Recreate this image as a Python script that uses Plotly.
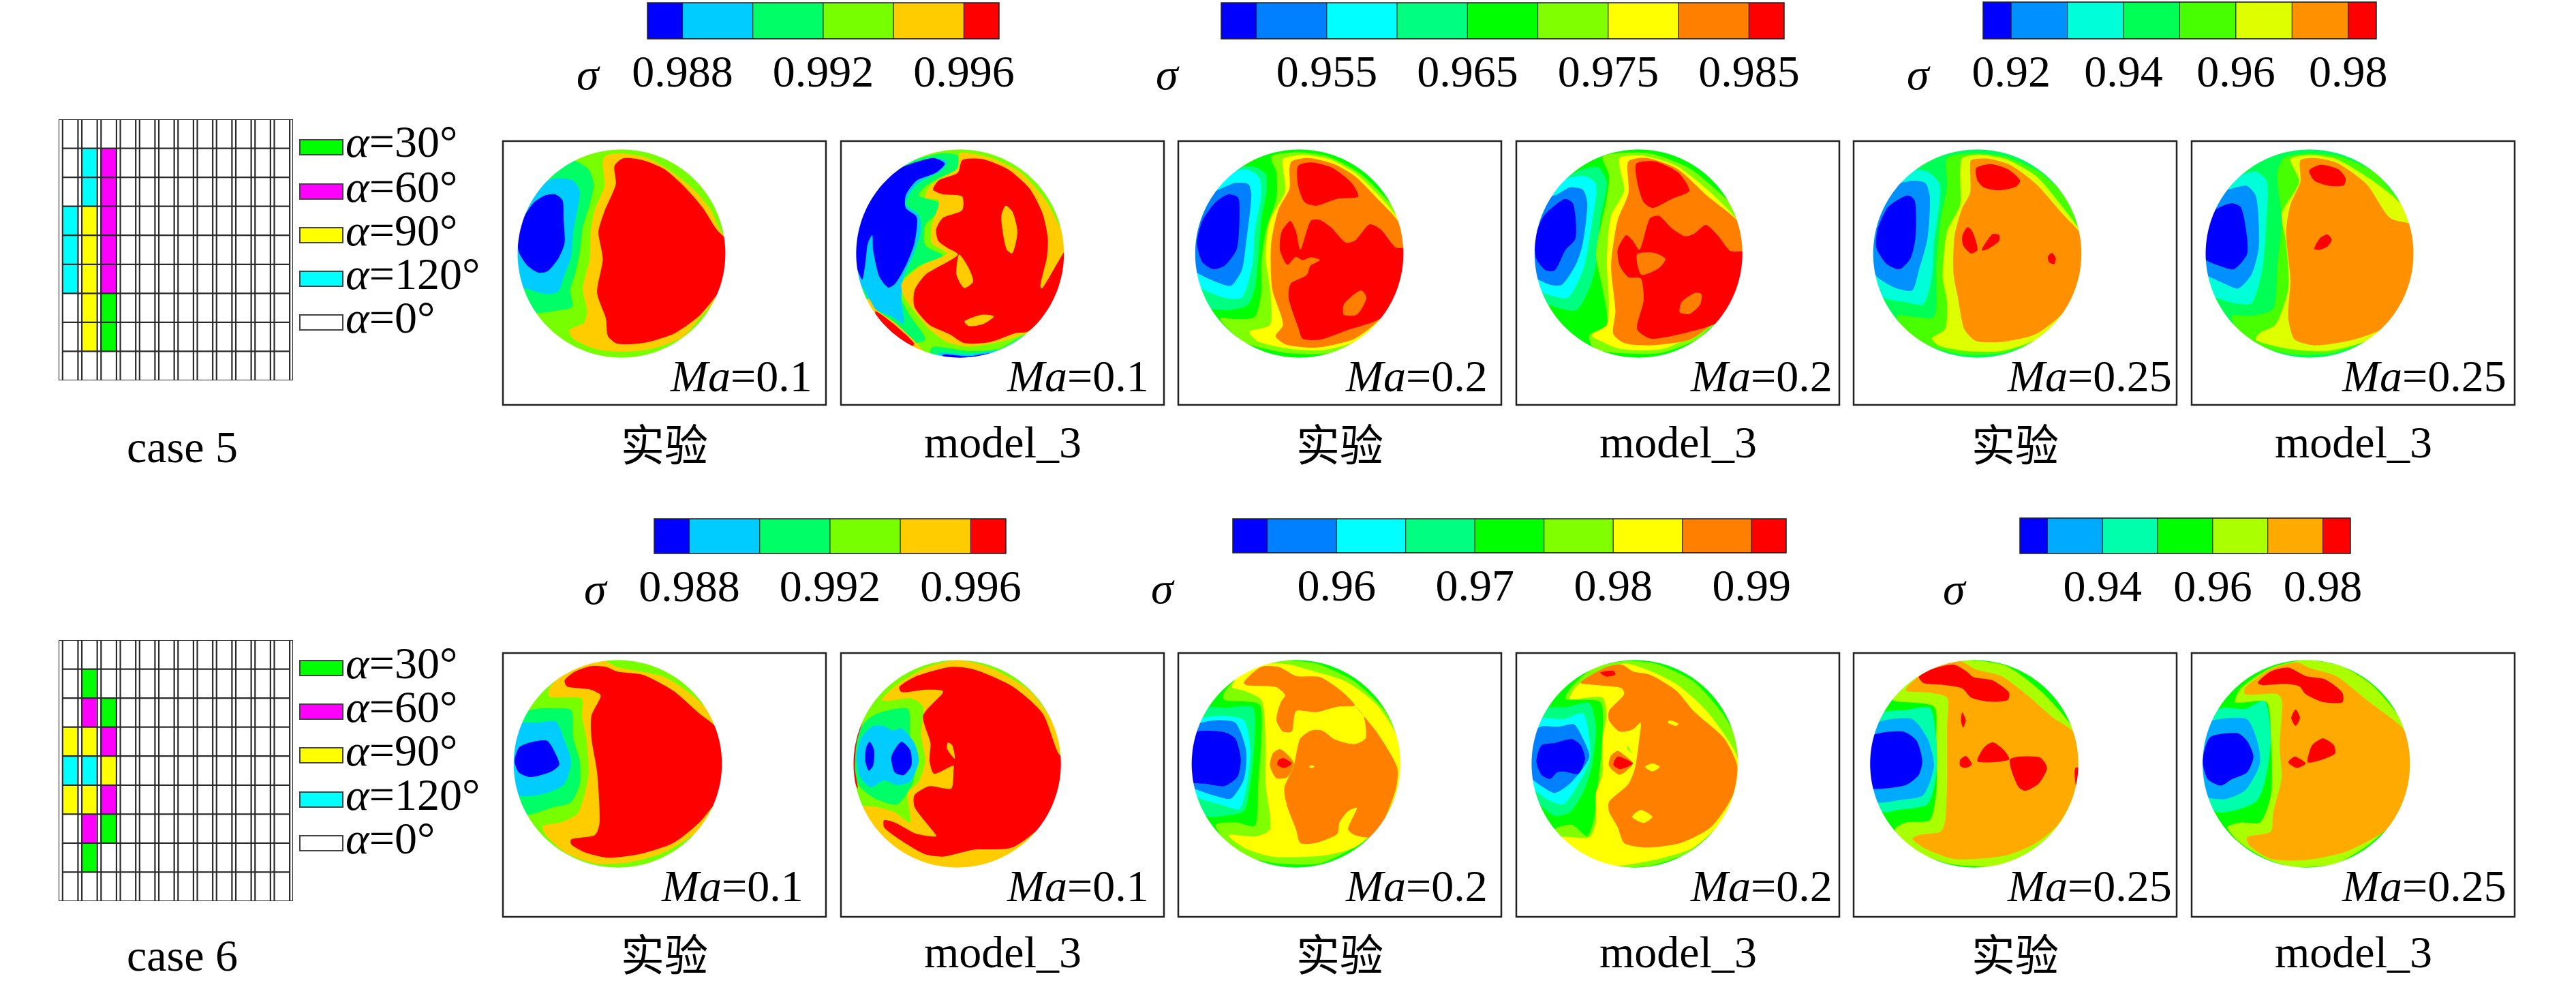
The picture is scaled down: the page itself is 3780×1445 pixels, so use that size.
#!/usr/bin/env python3
"""Contour maps of sigma for case 5 and case 6, experiment against model_3."""

import math

import plotly.graph_objects as go

W, H = 3780, 1445
SERIF = "Liberation Serif"
CJK = "Noto Sans CJK SC"
FONT_PX = 66

# --- colour levels -----------------------------------------------------------
COLORS_6 = ["#0000ff", "#00ccff", "#00ff66", "#77ff00", "#ffcc00", "#ff0000"]
COLORS_9 = ["#0000ff", "#0080ff", "#00ffff", "#00ff80", "#00ff00", "#80ff00", "#ffff00", "#ff8000", "#ff0000"]
COLORS_8 = ["#0000ff", "#0090ff", "#00ffd8", "#00ff55", "#48ff00", "#ddff00", "#ff9000", "#ff0000"]
COLORS_7 = ["#0000ff", "#00aaff", "#00ffaa", "#00ff00", "#aaff00", "#ffaa00", "#ff0000"]

# --- colour bars: segment edges in sigma, tick values and labels -------------
EDGES_A = [0.987, 0.988, 0.990, 0.992, 0.994, 0.996, 0.997]
TICKS_A = [0.988, 0.992, 0.996]
TEXT_A = ["0.988", "0.992", "0.996"]
EDGES_B = [0.9475, 0.950, 0.955, 0.960, 0.965, 0.970, 0.975, 0.980, 0.985, 0.9875]
TICKS_B = [0.955, 0.965, 0.975, 0.985]
TEXT_B = ["0.955", "0.965", "0.975", "0.985"]
EDGES_C = [0.915, 0.92, 0.93, 0.94, 0.95, 0.96, 0.97, 0.98, 0.985]
TICKS_C = [0.92, 0.94, 0.96, 0.98]
TEXT_C = ["0.92", "0.94", "0.96", "0.98"]
EDGES_D = [0.987, 0.988, 0.990, 0.992, 0.994, 0.996, 0.997]
TICKS_D = TICKS_A
TEXT_D = TEXT_A
EDGES_E = [0.9525, 0.955, 0.960, 0.965, 0.970, 0.975, 0.980, 0.985, 0.990, 0.9925]
TICKS_E = [0.96, 0.97, 0.98, 0.99]
TEXT_E = ["0.96", "0.97", "0.98", "0.99"]
EDGES_F = [0.925, 0.93, 0.94, 0.95, 0.96, 0.97, 0.98, 0.985]
TICKS_F = [0.94, 0.96, 0.98]
TEXT_F = ["0.94", "0.96", "0.98"]

# --- wall patterns: angle of each cell, rows top to bottom -------------------
CASE5_ANGLES = [
    [0, 0, 0, 0, 0, 0, 0, 0, 0, 0, 0, 0],
    [0, 120, 60, 0, 0, 0, 0, 0, 0, 0, 0, 0],
    [0, 120, 60, 0, 0, 0, 0, 0, 0, 0, 0, 0],
    [120, 90, 60, 0, 0, 0, 0, 0, 0, 0, 0, 0],
    [120, 90, 60, 0, 0, 0, 0, 0, 0, 0, 0, 0],
    [120, 90, 60, 0, 0, 0, 0, 0, 0, 0, 0, 0],
    [0, 90, 30, 0, 0, 0, 0, 0, 0, 0, 0, 0],
    [0, 90, 30, 0, 0, 0, 0, 0, 0, 0, 0, 0],
    [0, 0, 0, 0, 0, 0, 0, 0, 0, 0, 0, 0],
]
CASE6_ANGLES = [
    [0, 0, 0, 0, 0, 0, 0, 0, 0, 0, 0, 0],
    [0, 30, 0, 0, 0, 0, 0, 0, 0, 0, 0, 0],
    [0, 60, 30, 0, 0, 0, 0, 0, 0, 0, 0, 0],
    [90, 90, 60, 0, 0, 0, 0, 0, 0, 0, 0, 0],
    [120, 120, 90, 0, 0, 0, 0, 0, 0, 0, 0, 0],
    [90, 90, 60, 0, 0, 0, 0, 0, 0, 0, 0, 0],
    [0, 60, 30, 0, 0, 0, 0, 0, 0, 0, 0, 0],
    [0, 30, 0, 0, 0, 0, 0, 0, 0, 0, 0, 0],
    [0, 0, 0, 0, 0, 0, 0, 0, 0, 0, 0, 0],
]
LEGEND_ANGLES = [30, 60, 90, 120, 0]
ANGLE_COLORS = {0: "#ffffff", 30: "#00ff00", 60: "#ff00ff", 90: "#ffff00", 120: "#00ffff"}

# --- contour regions ---------------------------------------------------------
# Each map: base level, then (level, outline) painted in order.
C5_M10_EXP = (3, [
    (2, [(190,135),(225,175),(237,240),(228,330),(212,430),(205,540),(195,630),(183,710),(188,780),(150,798),(110,808),(40,800),(40,120)]),
    (1, [(150,215),(190,225),(205,270),(200,350),(190,450),(185,560),(170,640),(155,715),(130,725),(78,700),(40,690),(40,300),(95,270),(120,235)]),
    (0, [(148,285),(165,310),(168,400),(170,500),(155,570),(130,625),(110,630),(85,600),(65,540),(62,480),(75,390),(100,320),(125,290)]),
    (4, [(265,115),(300,105),(360,125),(420,190),(470,270),(505,350),(530,450),(560,520),(520,740),(490,810),(440,915),(370,965),(300,978),(240,965),(190,920),(180,885),(215,850),(222,800),(212,700),(228,570),(230,450),(240,350),(262,250),(258,140)]),
    (5, [(305,127),(350,135),(400,175),(450,260),(490,350),(520,440),(560,520),(560,640),(520,730),(480,820),(420,900),(350,940),(290,942),(270,910),(265,830),(245,720),(258,570),(248,450),(262,360),(288,240),(285,160)]),
])
C5_M10_SIM = (3, [
    (2, [(1040,105),(1075,115),(1072,175),(1030,215),(1000,250),(985,290),(1030,320),(1040,345),(1000,420),(1000,510),(1040,555),(985,600),(945,670),(945,745),(965,820),(1000,925),(960,940),(880,800),(820,760),(820,300),(950,150)]),
    (1, [(960,175),(1030,128),(1050,140),(1040,175),(985,235),(965,280),(955,330),(985,375),(990,440),(975,540),(950,650),(945,750),(950,855),(925,825),(885,790),(858,700),(820,600),(820,300)]),
    (0, [(930,180),(1020,125),(1045,150),(1025,190),(980,225),(955,290),(955,345),(980,385),(975,500),(955,600),(930,680),(915,695),(895,650),(880,530),(878,465),(868,500),(862,590),(855,660),(835,560),(835,400),(870,280)]),
    (4, [(870,745),(885,790),(930,850),(985,950),(995,975),(960,960),(880,840),(860,760)]),
    (5, [(885,800),(930,860),(975,945),(965,955),(900,870)]),
    (2, [(1015,960),(1100,975),(1170,965),(1240,900),(1260,1020),(1015,1020)]),
    (1, [(1030,985),(1100,990),(1180,975),(1170,1020),(1030,1020)]),
    (0, [(1040,992),(1100,998),(1170,982),(1150,1020),(1050,1020)]),
    (4, [(1080,105),(1150,125),(1220,190),(1280,320),(1310,430),(1335,520),(1320,640),(1280,780),(1235,890),(1180,930),(1100,955),(1050,935),(1010,880),(975,800),(950,730),(945,680),(970,630),(1000,590),(1050,545),(1015,500),(1015,420),(1030,340),(1030,310),(1000,300),(1010,250),(1040,210),(1075,170)]),
    (5, [(1085,135),(1130,130),(1190,175),(1240,260),(1270,370),(1282,480),(1280,560),(1265,690),(1268,700),(1335,500),(1335,650),(1290,790),(1235,890),(1210,895),(1150,935),(1090,940),(1055,900),(1010,860),(975,780),(975,710),(1000,640),(1075,550),(1050,520),(1030,490),(1025,440),(1040,390),(1085,355),(1085,295),(1040,285),(1018,265),(1030,225),(1075,190)]),
    (4, [(1185,335),(1200,360),(1212,450),(1200,545),(1188,530),(1175,380)]),
    (4, [(1078,550),(1100,610),(1110,670),(1090,698),(1072,640)]),
    (4, [(1090,845),(1130,815),(1158,822),(1135,855),(1100,865)]),
])
C5_M20_EXP = (4, [
    (3, [(150,165),(190,165),(215,195),(218,260),(205,400),(200,520),(190,700),(175,770),(130,795),(80,790),(30,800),(30,300),(100,200)]),
    (2, [(125,200),(170,175),(200,210),(205,280),(190,450),(185,590),(160,740),(120,740),(60,690),(30,600),(30,300),(90,270)]),
    (1, [(145,235),(175,240),(182,280),(170,500),(160,620),(135,688),(100,670),(50,620),(30,550),(30,300),(100,270)]),
    (0, [(130,285),(152,300),(155,380),(148,530),(120,600),(95,615),(70,585),(57,500),(70,400),(100,320)]),
    (5, [(228,120),(290,100),(360,120),(430,190),(480,280),(540,420),(540,620),(500,800),(440,930),(360,985),(270,985),(170,940),(125,870),(110,830),(150,835),(190,825),(205,720),(205,600),(215,450),(240,300),(240,190)]),
    (6, [(255,130),(300,112),(360,130),(420,190),(470,280),(525,410),(540,600),(490,820),(440,920),(350,970),(270,965),(195,930),(178,890),(225,860),(225,700),(215,560),(225,400),(260,270),(255,170)]),
    (7, [(275,140),(310,125),(370,150),(420,205),(470,300),(525,420),(540,600),(485,820),(420,920),(330,960),(260,945),(238,910),(255,860),(230,700),(228,500),(245,350),(270,260),(270,170)]),
    (8, [(290,160),(320,145),(370,170),(415,240),(428,295),(380,305),(330,335),(305,320),(290,250)]),
    (8, [(252,450),(272,403),(285,450),(295,530),(320,400),(340,398),(365,430),(400,498),(420,490),(455,417),(480,440),(515,520),(540,525),(540,650),(485,825),(400,885),(340,925),(300,920),(290,870),(268,740),(272,680),(310,640),(318,600),(340,575),(320,562),(300,575),(285,560),(265,595),(248,530)]),
    (7, [(435,708),(447,740),(425,815),(395,815),(395,770)]),
])
C5_M20_SIM = (4, [
    (3, [(945,175),(980,165),(1000,230),(985,400),(975,600),(960,700),(930,795),(880,780),(800,700),(800,300),(880,230)]),
    (2, [(910,215),(950,205),(975,240),(965,420),(945,620),(910,740),(870,730),(800,660),(800,300),(880,260)]),
    (1, [(915,255),(945,265),(955,320),(945,500),(930,590),(895,685),(865,680),(800,600),(800,300),(880,290)]),
    (0, [(905,305),(922,325),(928,480),(905,530),(880,620),(860,620),(838,570),(835,480),(855,380)]),
    (5, [(990,120),(1020,105),(1100,105),(1190,170),(1260,280),(1330,420),(1330,600),(1280,780),(1210,920),(1120,985),(990,975),(965,950),(960,905),(1000,860),(990,700),(975,550),(1000,300),(1005,200)]),
    (6, [(1030,125),(1080,115),(1160,160),(1240,280),(1300,400),(1330,560),(1290,760),(1220,880),(1130,965),(1030,965),(985,930),(965,905),(1000,860),(1005,760),(1000,580),(1010,380),(1040,270),(1030,170)]),
    (7, [(1050,140),(1090,125),(1160,170),(1230,290),(1300,400),(1330,500),(1320,700),(1260,830),(1190,925),(1100,950),(1040,940),(1015,900),(1020,800),(1010,600),(1025,400),(1050,280)]),
    (8, [(1068,150),(1110,140),(1165,190),(1190,270),(1150,305),(1105,345),(1085,320),(1070,230)]),
    (8, [(1025,530),(1045,465),(1060,490),(1075,530),(1100,390),(1120,380),(1150,435),(1180,470),(1200,460),(1228,420),(1255,465),(1285,535),(1330,540),(1330,640),(1290,770),(1255,850),(1170,900),(1100,920),(1070,880),(1085,750),(1078,655),(1050,650),(1030,600)]),
    (7, [(1070,548),(1110,543),(1135,570),(1120,610),(1080,640),(1070,590)]),
    (7, [(1205,718),(1218,725),(1215,770),(1190,812),(1168,805),(1172,760)]),
])
C5_M25_EXP = (3, [
    (4, [(215,125),(280,105),(350,120),(430,190),(490,300),(530,430),(530,600),(490,800),(420,930),(340,985),(250,990),(170,950),(110,880),(100,820),(140,825),(185,825),(190,600),(200,400),(215,250)]),
    (2, [(140,178),(170,185),(198,240),(185,500),(180,650),(160,770),(120,760),(75,745),(30,680),(30,300)]),
    (1, [(135,225),(165,235),(175,290),(170,480),(150,620),(135,708),(100,700),(55,650),(30,560),(30,300)]),
    (0, [(125,290),(140,310),(142,480),(130,570),(105,615),(75,590),(52,520),(55,440),(80,340)]),
    (5, [(250,125),(290,110),(350,130),(420,205),(480,340),(530,480),(530,700),(490,800),(420,925),(340,975),(260,975),(195,950),(180,920),(210,880),(215,760),(205,650),(215,450),(245,330),(245,190)]),
    (6, [(270,135),(310,128),(360,155),(420,240),(480,370),(530,480),(530,600),(490,790),(420,900),(340,935),(280,930),(255,880),(240,740),(230,640),(232,470),(250,345),(268,280),(268,170)]),
    (7, [(282,170),(315,152),(355,175),(383,225),(375,250),(335,268),(300,255),(285,225)]),
    (7, [(250,470),(262,430),(272,445),(285,530),(270,545),(252,510)]),
    (7, [(295,532),(320,460),(335,465),(335,490),(310,525)]),
    (7, [(447,560),(456,543),(465,565),(462,592),(450,585)]),
])
C5_M25_SIM = (3, [
    (4, [(990,125),(1050,105),(1120,120),(1200,190),(1250,300),(1300,430),(1300,620),(1250,800),(1180,930),(1100,985),(1010,990),(930,950),(880,880),(870,820),(915,820),(965,790),(975,600),(985,400),(975,190)]),
    (2, [(880,210),(925,185),(950,225),(950,400),(940,620),(915,765),(880,765),(830,735),(780,650),(780,300)]),
    (1, [(860,265),(905,248),(925,290),(932,520),(915,640),(885,700),(855,680),(810,640),(780,600),(780,300)]),
    (0, [(870,325),(890,340),(905,470),(905,550),(875,615),(850,605),(805,565),(800,420),(835,350)]),
    (5, [(1005,130),(1050,112),(1110,130),(1190,220),(1250,310),(1300,430),(1300,700),(1240,840),(1180,930),(1090,975),(1000,965),(925,925),(935,895),(970,860),(1000,700),(995,500),(985,370),(1025,230)]),
    (6, [(1028,135),(1060,125),(1110,145),(1180,240),(1235,390),(1300,430),(1300,600),(1230,860),(1150,925),(1060,950),(1015,925),(1000,830),(1005,660),(995,450),(1005,330),(1028,230)]),
    (7, [(1048,180),(1075,155),(1115,175),(1132,215),(1128,245),(1095,248),(1060,225)]),
    (7, [(1060,525),(1075,475),(1090,462),(1100,485),(1090,515),(1070,530)]),
])
C6_M10_EXP = (3, [
    (2, [(105,270),(150,268),(185,275),(190,400),(205,500),(205,600),(185,680),(140,705),(90,735),(30,730),(30,320)]),
    (1, [(70,332),(110,330),(150,325),(168,400),(185,500),(170,600),(130,640),(70,655),(30,620),(30,380)]),
    (0, [(90,418),(130,410),(150,470),(158,515),(140,545),(90,570),(65,550),(55,500),(65,440)]),
    (4, [(260,58),(290,85),(400,130),(470,220),(520,330),(540,500),(540,600),(480,800),(400,900),(320,945),(240,950),(170,900),(125,820),(120,785),(160,770),(200,730),(225,560),(220,400),(210,300),(210,225),(135,215),(135,180),(190,80)]),
    (5, [(230,82),(265,85),(290,105),(350,120),(420,190),(480,290),(518,350),(540,500),(540,640),(515,690),(480,770),(420,860),(340,910),(270,925),(215,900),(185,865),(185,845),(240,825),(250,780),(245,550),(232,400),(232,300),(253,210),(230,185),(175,170),(170,145),(190,110)]),
])
C6_M10_SIM = (3, [
    (2, [(890,290),(960,270),(965,400),(980,490),(970,600),(935,690),(880,660),(845,600),(838,420),(860,330)]),
    (1, [(880,345),(905,345),(925,365),(945,355),(975,420),(985,500),(965,590),(935,605),(905,585),(875,615),(850,570),(842,470),(855,390)]),
    (0, [(872,415),(882,450),(880,520),(870,542),(862,500),(864,440)]),
    (0, [(945,415),(965,450),(968,520),(950,562),(930,550),(922,480)]),
    (4, [(1075,55),(1150,90),(1240,190),(1300,350),(1330,500),(1310,700),(1220,880),(1110,975),(1030,965),(900,860),(865,740),(850,700),(880,700),(930,725),(965,770),(960,640),(985,590),(1000,500),(990,380),(995,260),(970,225),(908,235),(900,230),(930,170),(1000,90)]),
    (5, [(975,130),(1060,85),(1110,95),(1200,170),(1270,290),(1308,470),(1330,500),(1310,640),(1280,760),(1200,880),(1110,890),(1040,920),(1000,910),(945,850),(905,790),(905,760),(930,770),(980,820),(1025,830),(1010,790),(975,700),(975,650),(1010,610),(1060,620),(1065,540),(1065,520),(1020,555),(1010,500),(1012,420),(995,300),(1040,200),(1040,190),(1000,185),(945,195),(940,175)]),
    (4, [(1052,418),(1062,430),(1068,490),(1050,445)]),
    (5, [(858,310),(842,420),(838,530),(845,620),(820,500)]),
])
C6_M20_EXP = (4, [
    (5, [(255,58),(330,70),(420,150),(490,280),(530,440),(530,620),(470,800),(400,900),(340,950),(240,950),(180,925),(130,870),(100,780),(150,770),(190,785),(198,600),(205,400),(200,250),(120,230),(118,205),(140,150),(190,80)]),
    (3, [(85,262),(120,265),(185,262),(190,400),(180,600),(165,720),(120,740),(85,745),(30,700),(30,320)]),
    (2, [(70,310),(120,300),(165,320),(180,450),(172,600),(155,710),(110,690),(60,660),(30,600),(30,350)]),
    (1, [(60,335),(100,320),(145,330),(170,450),(165,580),(135,665),(95,650),(50,620),(30,600),(30,380)]),
    (0, [(55,370),(120,372),(145,400),(158,490),(150,570),(120,610),(80,600),(40,590),(30,500),(30,400)]),
    (6, [(225,70),(270,75),(300,90),(400,150),(470,250),(520,400),(530,550),(480,780),(420,880),(350,915),(230,920),(170,885),(135,840),(130,825),(195,830),(225,800),(215,600),(215,400),(205,230),(165,190),(138,175),(150,130)]),
    (7, [(165,155),(205,85),(245,85),(285,125),(340,130),(395,200),(420,255),(380,260),(330,285),(285,280),(275,370),(255,370),(240,320),(250,240),(260,210),(240,175),(170,165)]),
    (7, [(320,365),(345,365),(375,405),(420,425),(445,400),(440,300),(420,255),(470,370),(518,530),(515,620),(480,790),(460,835),(420,825),(405,800),(425,705),(405,720),(385,770),(380,820),(330,860),(295,860),(285,800),(265,700),(258,620),(280,520),(295,400)]),
    (7, [(248,447),(270,480),(280,510),(265,570),(240,575),(225,520),(232,465)]),
    (8, [(255,487),(275,510),(258,530),(242,515),(245,495)]),
    (6, [(320,518),(328,524),(320,530),(315,524)]),
])
C6_M20_SIM = (4, [
    (5, [(1040,60),(1110,70),(1200,150),(1270,300),(1310,450),(1310,620),(1250,800),(1180,910),(1100,960),(1020,965),(950,930),(900,870),(880,800),(920,780),(955,830),(970,760),(980,600),(990,400),(985,240),(905,225),(918,175),(970,90)]),
    (3, [(860,265),(905,262),(960,245),(975,350),(965,530),(945,640),(915,725),(880,740),(840,680),(800,600),(800,340)]),
    (2, [(855,310),(900,315),(945,290),(960,400),(960,500),(935,600),(900,690),(865,670),(830,620),(800,570),(800,350)]),
    (1, [(845,350),(890,348),(925,338),(945,400),(960,480),(920,590),(880,640),(850,610),(825,570),(820,440)]),
    (0, [(850,430),(880,420),(920,403),(940,430),(950,490),(935,555),(900,545),(885,550),(870,578),(850,560),(838,500)]),
    (6, [(975,120),(1040,70),(1090,95),(1160,160),(1230,280),(1300,480),(1300,610),(1270,750),(1200,880),(1120,930),(1020,960),(950,925),(900,865),(895,835),(960,835),(975,770),(975,640),(990,560),(990,400),(1000,300),(990,220),(915,225),(930,170)]),
    (7, [(940,155),(1000,85),(1035,75),(1060,105),(1100,120),(1160,190),(1200,280),(1270,400),(1300,520),(1290,650),(1240,790),(1170,860),(1090,880),(1040,860),(1025,790),(1005,720),(1005,680),(1050,600),(1065,530),(1075,400),(1078,330),(1060,360),(1030,370),(1005,320),(1005,280),(1040,205),(1035,180),(975,165)]),
    (8, [(985,110),(1015,102),(1020,118),(1000,128)]),
    (7, [(1025,455),(1045,480),(1060,510),(1030,560),(1005,520),(1010,475)]),
    (8, [(1025,480),(1060,510),(1030,535),(1015,515)]),
    (6, [(1145,320),(1165,335),(1160,345),(1140,330)]),
    (6, [(1105,510),(1122,525),(1105,545),(1088,525)]),
    (6, [(1078,715),(1105,745),(1085,772),(1058,745)]),
    (5, [(1048,432),(1057,465),(1047,445)]),
])
C6_M25_EXP = (3, [
    (4, [(250,55),(350,80),(430,190),(500,340),(540,500),(520,700),(430,890),(350,960),(230,955),(170,920),(120,860),(95,800),(120,770),(175,760),(190,640),(190,400),(185,260),(90,230),(115,175),(170,90)]),
    (2, [(80,280),(120,275),(175,265),(190,400),(190,560),(170,690),(100,715),(70,725),(30,650),(30,320)]),
    (1, [(55,330),(135,315),(170,400),(185,520),(160,650),(110,670),(55,680),(30,600),(30,400)]),
    (0, [(40,390),(115,370),(145,410),(158,500),(150,560),(120,605),(30,615),(20,500)]),
    (5, [(245,60),(280,95),(340,125),(400,210),(460,310),(505,370),(530,500),(500,680),(470,780),(420,860),(350,915),(230,930),(160,880),(135,840),(150,825),(200,810),(210,770),(215,600),(215,350),(215,220),(180,200),(120,190),(125,170),(170,100)]),
    (6, [(150,130),(180,95),(230,75),(260,105),(275,130),(320,145),(358,200),(355,230),(310,238),(270,220),(250,180),(210,165),(160,155)]),
    (6, [(250,285),(258,320),(252,352),(247,320)]),
    (6, [(245,495),(258,477),(272,515),(255,530),(245,520)]),
    (6, [(285,500),(300,440),(320,417),(345,450),(358,492)]),
    (6, [(360,492),(430,485),(445,530),(425,600),(395,630),(380,615)]),
    (6, [(510,530),(520,530),(520,600),(512,605)]),
])
C6_M25_SIM = (3, [
    (4, [(1040,55),(1120,80),(1190,160),(1260,320),(1290,500),(1270,700),(1190,860),(1110,950),(1010,965),(950,930),(890,860),(860,790),(890,770),(935,770),(960,650),(960,400),(950,240),(878,240),(890,180),(960,90)]),
    (2, [(850,265),(900,270),(945,235),(960,400),(945,600),(925,680),(840,725),(790,650),(790,330)]),
    (1, [(820,325),(905,315),(930,420),(935,510),(900,630),(850,668),(790,640),(790,380)]),
    (0, [(820,395),(885,378),(905,410),(920,480),(905,550),(870,580),(845,608),(815,580),(803,500)]),
    (5, [(1020,65),(1050,90),(1110,125),(1180,230),(1268,365),(1290,500),(1270,700),(1220,810),(1130,900),(1040,935),(960,930),(910,870),(905,835),(960,810),(965,730),(985,570),(980,440),(985,230),(975,205),(900,205),(900,180),(960,95)]),
    (6, [(930,155),(960,105),(1000,88),(1040,125),(1085,140),(1125,200),(1125,240),(1080,240),(1040,205),(1025,170),(990,160),(940,165)]),
    (6, [(1017,272),(1027,310),(1017,345),(1007,310)]),
    (6, [(1000,505),(1015,480),(1040,510),(1020,530)]),
    (6, [(1045,505),(1055,430),(1080,400),(1105,430),(1108,465),(1075,495)]),
])

# --- page layout, in page pixels ---------------------------------------------
PANEL_LEFT = [738, 1234, 1729, 2225, 2720, 3216]
PANEL_W = 474
ROW_TOP = [207, 958]
PANEL_H = 387
TRACE_X0 = [720, 720, 1720, 1720, 2720, 2720]  # left edge of the traced area, per column
TRACE_Y0 = [190, 950]
TRACE_SX = 1.568
TRACE_SY = 3.0
DISK_X = [(62, 540), (841, 1319), (53, 532), (834, 1312), (45, 524), (810, 1288),
          (53, 532), (835, 1312), (45, 525), (827, 1302), (38, 517), (803, 1280)]
DISK_Y = [(88, 1004), (55, 968)]
MAPS = [C5_M10_EXP, C5_M10_SIM, C5_M20_EXP, C5_M20_SIM, C5_M25_EXP, C5_M25_SIM,
        C6_M10_EXP, C6_M10_SIM, C6_M20_EXP, C6_M20_SIM, C6_M25_EXP, C6_M25_SIM]
MAP_COLORS = [COLORS_6, COLORS_6, COLORS_9, COLORS_9, COLORS_8, COLORS_8,
              COLORS_6, COLORS_6, COLORS_9, COLORS_9, COLORS_7, COLORS_7]
MACH = ["0.1", "0.1", "0.2", "0.2", "0.25", "0.25"]
MA_RIGHT = [1194, 1688, 2185, 2691, 3189, 3680,
            1181, 1688, 2185, 2691, 3189, 3680]
MA_MID = [551, 1299]
CAPTION_MID = [648, 1396]
CAPTIONS = ["实验", "model_3"]

BARS = [
    ((950, 1466, 4, 57), EDGES_A, TICKS_A, TEXT_A, COLORS_6, 863),
    ((1792, 2618, 4, 57), EDGES_B, TICKS_B, TEXT_B, COLORS_9, 1713),
    ((2910, 3487, 3, 57), EDGES_C, TICKS_C, TEXT_C, COLORS_8, 2815),
    ((960, 1476, 761, 812), EDGES_D, TICKS_D, TEXT_D, COLORS_6, 874),
    ((1809, 2621, 761, 811), EDGES_E, TICKS_E, TEXT_E, COLORS_9, 1706),
    ((2964, 3449, 760, 812), EDGES_F, TICKS_F, TEXT_F, COLORS_7, 2868),
]

fig = go.Figure()
shapes = []
annotations = []
axis_count = 0


def new_axes(left, right, top, bottom, xaxis=None, yaxis=None):
    """Add an x/y pair placed on the page by pixel box, return trace refs."""
    global axis_count
    axis_count += 1
    n = axis_count
    # the default template turns automargin on, which would shrink the page grid
    xa = dict(domain=[left / W, right / W], anchor=f"y{n}", visible=False, fixedrange=True, automargin=False)
    ya = dict(domain=[1 - bottom / H, 1 - top / H], anchor=f"x{n}", visible=False, fixedrange=True, automargin=False)
    xa.update(xaxis or {})
    ya.update(yaxis or {})
    fig.update_layout({f"xaxis{n}": xa, f"yaxis{n}": ya})
    return f"x{n}", f"y{n}"


def label(x, y, text, anchor="center", font=SERIF, size=FONT_PX):
    annotations.append(dict(
        xref="paper", yref="paper", x=x / W, y=1 - y / H, text=text, showarrow=False,
        xanchor=anchor, yanchor="middle", font=dict(family=font, size=size, color="#000000"),
    ))


def draw_map(col, row, field, colors, disk_x, disk_y):
    left, top = PANEL_LEFT[col], ROW_TOP[row]
    x0, y0 = TRACE_X0[col], TRACE_Y0[row]
    xrange = [(left - x0) * TRACE_SX, (left + PANEL_W - x0) * TRACE_SX]
    yrange = [(top + PANEL_H - y0) * TRACE_SY, (top - y0) * TRACE_SY]
    xr, yr = new_axes(left, left + PANEL_W, top, top + PANEL_H,
                      dict(range=xrange), dict(range=yrange))

    base, regions = field
    box = [(disk_x[0] - 30, disk_y[0] - 30), (disk_x[1] + 30, disk_y[0] - 30),
           (disk_x[1] + 30, disk_y[1] + 30), (disk_x[0] - 30, disk_y[1] + 30)]
    for level, outline in [(base, box)] + regions:
        pts = outline + outline[:1]
        smooth = 0.0 if outline is box else 0.7
        fig.add_trace(go.Scatter(
            x=[p[0] for p in pts], y=[p[1] for p in pts], xaxis=xr, yaxis=yr,
            mode="lines", fill="toself", fillcolor=colors[level],
            line=dict(width=0, shape="spline" if smooth else "linear", smoothing=smooth or None),
            hoverinfo="skip", showlegend=False,
        ))

    # white mask outside the disk, the maps are only defined inside it
    cx, cy = sum(disk_x) / 2, sum(disk_y) / 2
    rx, ry = (disk_x[1] - disk_x[0]) / 2, (disk_y[1] - disk_y[0]) / 2
    path = f"M{xrange[0]-20},{yrange[1]-20} L{xrange[1]+20},{yrange[1]-20} L{xrange[1]+20},{yrange[0]+20} L{xrange[0]-20},{yrange[0]+20} Z "
    ring = [(cx + rx * math.cos(math.radians(a)), cy + ry * math.sin(math.radians(a))) for a in range(0, 360, 2)]
    path += "M" + " L".join(f"{x:.1f},{y:.1f}" for x, y in ring) + " Z"
    shapes.append(dict(type="path", xref=xr, yref=yr, path=path, fillcolor="#ffffff",
                       fillrule="evenodd", line=dict(width=0), layer="above"))
    shapes.append(dict(type="rect", xref="paper", yref="paper", x0=left / W, x1=(left + PANEL_W) / W,
                       y0=1 - (top + PANEL_H) / H, y1=1 - top / H, line=dict(color="#222222", width=2.5),
                       layer="above"))


def draw_bar(box, edges, ticks, text, colors, sigma_x):
    left, right, top, bottom = box
    xr, yr = new_axes(
        left, right, top, bottom,
        dict(visible=True, range=[edges[0], edges[-1]], tickmode="array", tickvals=ticks, ticktext=text,
             ticks="", ticklen=0, ticklabelstandoff=3, tickangle=0, showgrid=False,
             zeroline=False, showline=False, tickfont=dict(family=SERIF, size=FONT_PX, color="#000000")),
        dict(range=[-0.5, 0.5]),
    )
    fig.add_trace(go.Bar(
        x=[b - a for a, b in zip(edges, edges[1:])], base=edges[:-1], y=[0] * (len(edges) - 1),
        xaxis=xr, yaxis=yr, orientation="h", width=1,
        marker=dict(color=colors, line=dict(color="#222222", width=1)),
        hoverinfo="skip", showlegend=False,
    ))
    shapes.append(dict(type="rect", xref="paper", yref="paper", x0=left / W, x1=right / W,
                       y0=1 - bottom / H, y1=1 - top / H, line=dict(color="#222222", width=1.5)))
    label(sigma_x, bottom + 51, "<i>σ</i>")


def draw_pattern(angles, box, swatch_tops, caption, caption_y):
    left, right, top, bottom = box
    xmin, xmax, half = -0.607, 11.573, 0.4
    rows, cols = len(angles), len(angles[0])
    xr, yr = new_axes(left, right, top, bottom, dict(range=[xmin, xmax]), dict(range=[rows - 0.5, -0.5]))
    stops = sorted(ANGLE_COLORS)
    fig.add_trace(go.Heatmap(
        z=angles, x=list(range(cols)), y=list(range(rows)), xaxis=xr, yaxis=yr, zmin=0, zmax=120,
        colorscale=[[a / 120, ANGLE_COLORS[a]] for a in stops], showscale=False, hoverinfo="skip", xgap=5.5,
    ))
    lx, ly = [], []
    for c in range(cols):
        for x in (c - half, c + half):
            lx += [x, x, None]
            ly += [-0.5, rows - 0.5, None]
    for x in (xmin, xmax):
        lx += [x, x, None]
        ly += [-0.5, rows - 0.5, None]
    for r in range(rows + 1):
        ends = (xmin, xmax) if r in (0, rows) else (-half, cols - 1 + half)
        lx += [ends[0], ends[1], None]
        ly += [r - 0.5, r - 0.5, None]
    fig.add_trace(go.Scatter(x=lx, y=ly, xaxis=xr, yaxis=yr, mode="lines", cliponaxis=False,
                             line=dict(color="#2a2a2a", width=2.2), hoverinfo="skip", showlegend=False))

    for angle, sw_top in zip(LEGEND_ANGLES, swatch_tops):
        shapes.append(dict(type="rect", xref="paper", yref="paper", x0=440 / W, x1=503 / W,
                           y0=1 - (sw_top + 22) / H, y1=1 - sw_top / H, fillcolor=ANGLE_COLORS[angle],
                           line=dict(color="#444444", width=2)))
        label(505, sw_top + 3, f"<i>α</i>={angle}°", anchor="left")
    label(267, caption_y, caption)


draw_pattern(CASE5_ANGLES, (86, 430, 175, 558), [205, 270, 334, 398, 462], "case 5", 655)
draw_pattern(CASE6_ANGLES, (86, 430, 939, 1322), [969, 1033, 1097, 1162, 1226], "case 6", 1401)

for bar in BARS:
    draw_bar(*bar)

for row in range(2):
    for col in range(6):
        idx = row * 6 + col
        draw_map(col, row, MAPS[idx], MAP_COLORS[idx], DISK_X[idx], DISK_Y[row])
        label(MA_RIGHT[idx], MA_MID[row], f"<i>Ma</i>={MACH[col]}", anchor="right")
        center = PANEL_LEFT[col] + PANEL_W / 2
        caption = CAPTIONS[col % 2]
        label(center, CAPTION_MID[row], caption, font=CJK if col % 2 == 0 else SERIF,
              size=64 if col % 2 == 0 else FONT_PX)

fig.update_layout(
    width=W, height=H, margin=dict(l=0, r=0, t=0, b=0), paper_bgcolor="#ffffff", plot_bgcolor="#ffffff",
    shapes=shapes, annotations=annotations, barmode="overlay", showlegend=False,
)
# page body default margin would push the figure off the 3780x1445 window
fig.write_html("out.html", config={"displayModeBar": False}, post_script="document.body.style.margin='0';")
